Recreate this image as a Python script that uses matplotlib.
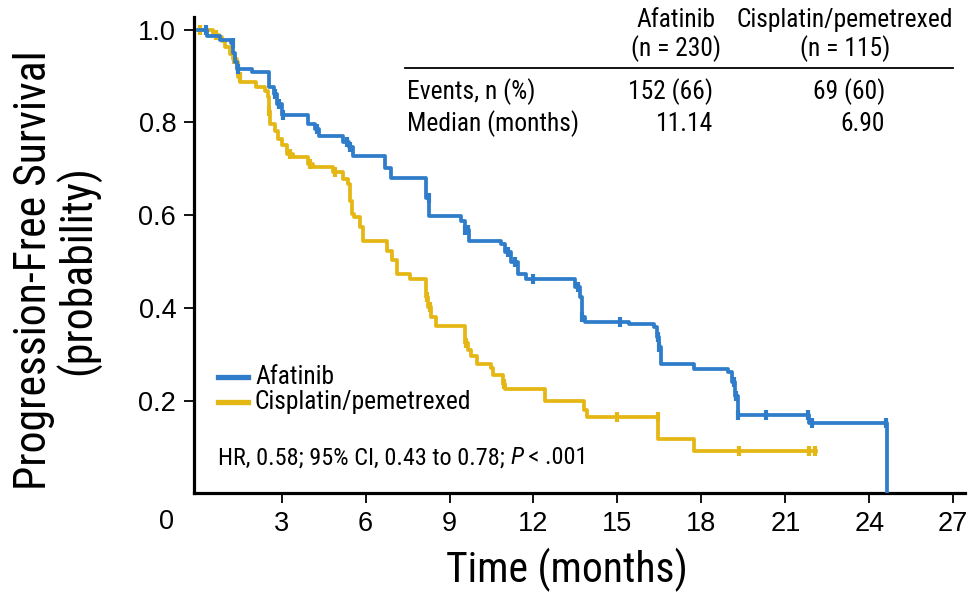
import numpy as np
import matplotlib
matplotlib.use("Agg")
import matplotlib.pyplot as plt
from matplotlib.lines import Line2D

# ---------------- data ----------------
afa_t = [0, 0.35, 0.8, 1.2, 1.28, 1.35, 1.42, 1.95, 2.55, 2.72, 2.82, 3.0, 3.95, 4.2, 4.35,
         5.2, 5.4, 5.55, 6.7, 6.9, 8.15, 8.28, 9.4, 9.55, 9.7, 10.85, 11.0, 11.2, 11.45, 11.75,
         13.5, 13.65, 13.75, 13.85, 15.4, 16.3, 16.4, 16.5, 16.55, 17.75, 18.95, 19.1, 19.2,
         19.3, 21.85, 24.65]
afa_s = [1.0, 0.985, 0.977, 0.97, 0.95, 0.93, 0.915, 0.908, 0.875, 0.862, 0.84, 0.815, 0.797,
         0.785, 0.771, 0.757, 0.746, 0.728, 0.702, 0.68, 0.637, 0.598, 0.588, 0.567, 0.545,
         0.538, 0.52, 0.498, 0.473, 0.463, 0.444, 0.423, 0.38, 0.369, 0.364, 0.358, 0.337,
         0.315, 0.279, 0.268, 0.262, 0.24, 0.21, 0.168, 0.151, 0.0]
afa_cens = [0.3, 1.25, 1.45, 2.75, 2.9, 3.05, 4.25, 5.35, 5.45, 8.25, 9.55, 9.65, 11.1,
            11.35, 12.0, 13.6, 13.75, 15.1, 16.45, 16.5, 19.15, 19.25, 19.3, 20.3, 21.8,
            21.95, 24.6]

cis_t = [0, 0.55, 0.75, 0.86, 0.98, 1.15, 1.27, 1.39, 1.45, 1.52, 2.1, 2.4, 2.52, 2.55, 2.58,
         2.75, 2.88, 3.0, 3.18, 3.42, 3.95, 4.13, 4.85, 5.2, 5.38, 5.44, 5.5, 5.6, 5.8, 5.92,
         6.75, 6.93, 7.11, 7.6, 8.15, 8.22, 8.35, 8.5, 9.55, 9.65, 9.75, 9.97, 10.5, 10.56,
         10.92, 10.98, 12.4, 13.82, 13.9, 16.46, 17.75]
cis_s = [1.0, 0.989, 0.983, 0.976, 0.962, 0.948, 0.937, 0.93, 0.897, 0.886, 0.876, 0.868,
         0.854, 0.825, 0.797, 0.782, 0.764, 0.75, 0.732, 0.725, 0.71, 0.703, 0.692, 0.678,
         0.667, 0.631, 0.603, 0.595, 0.574, 0.545, 0.523, 0.502, 0.473, 0.462, 0.423, 0.401,
         0.38, 0.36, 0.325, 0.31, 0.295, 0.278, 0.27, 0.254, 0.236, 0.224, 0.2, 0.179, 0.164,
         0.118, 0.092]
cis_end = 22.1
cis_cens = [0.1, 0.65, 1.3, 1.5, 2.55, 3.3, 4.0, 4.9, 8.2, 8.3, 9.6, 10.95, 15.0, 16.45,
            19.35, 21.85, 22.05]

x_ticks = [3, 6, 9, 12, 15, 18, 21, 24, 27]
y_ticks = [0.2, 0.4, 0.6, 0.8, 1.0]

legend_labels = ["Afatinib", "Cisplatin/pemetrexed"]
table_cols = ["Afatinib\n(n = 230)", "Cisplatin/pemetrexed\n(n = 115)"]
table_rows = ["Events, n (%)", "Median (months)"]
table_afa = ["152 (66)", "11.14"]
table_cis = ["69 (60)", "6.90"]
hr_parts = ["HR, 0.58; 95% CI, 0.43 to 0.78; ", "P", " < .001"]

BLUE = "#2F7DCA"
YEL = "#E4B714"
COND = ["Roboto Condensed", "Archivo Narrow", "DejaVu Sans"]
TICKF = ["Liberation Sans", "DejaVu Sans"]

# ---------------- figure ----------------
fig = plt.figure(figsize=(9.71, 5.94), dpi=100)
ax = fig.add_axes([194.3 / 971, 1 - 493.3 / 594, (965 - 194.3) / 971, 476.6 / 594])
ax.set_xlim(-0.12, 27.42)
ax.set_ylim(0, 1.0276)


def step_value(ts, ss, x):
    idx = np.searchsorted(ts, x, side="right") - 1
    return np.array(ss)[idx]


ax.step(afa_t, afa_s, where="post", color=BLUE, lw=2.7, zorder=3)
ax.plot(afa_cens, step_value(afa_t, afa_s, np.array(afa_cens)), ls="none", marker="|",
        ms=7, mew=3, color=BLUE, zorder=3)
ct = cis_t + [cis_end]
cs = cis_s + [cis_s[-1]]
ax.step(ct, cs, where="post", color=YEL, lw=2.7, zorder=2)
ax.plot(cis_cens, step_value(cis_t, cis_s, np.array(cis_cens)), ls="none", marker="|",
        ms=7, mew=3, color=YEL, zorder=2)

for s in ["top", "right"]:
    ax.spines[s].set_visible(False)
for s in ["left", "bottom"]:
    ax.spines[s].set_linewidth(2.3)
ax.set_xticks(x_ticks)
ax.set_yticks(y_ticks)
ax.set_yticklabels([f"{v:.1f}" for v in y_ticks])
ax.tick_params(axis="both", direction="out", length=7, width=1.3, labelsize=19.5, pad=6)
for lab in ax.get_xticklabels() + ax.get_yticklabels():
    lab.set_family(TICKF)
fig.text(167 / 971, 1 - 522 / 594, "0", ha="center", va="center", fontsize=19.5,
         family=TICKF)

fig.text(567 / 971, 1 - 570 / 594, "Time (months)", ha="center", va="center",
         fontsize=30, family=COND)
fig.text(57 / 971, 1 - 270 / 594, "Progression-Free Survival\n(probability)", ha="center",
         va="center", rotation=90, fontsize=31.5, family=COND, linespacing=1.0)

# legend drawn by hand
fs = 18.4
for i, (lab, col) in enumerate(zip(legend_labels, [BLUE, YEL])):
    yy = 1 - (377 + 25 * i) / 594
    fig.add_artist(Line2D([218 / 971, 248 / 971], [yy, yy], color=col, lw=3.8))
    fig.text(255 / 971, yy, lab, ha="left", va="center", fontsize=fs, family=COND)

# HR line with italic P
renderer = fig.canvas.get_renderer()
x0 = 218
yy = 1 - 458 / 594
for part, style in zip(hr_parts, ["normal", "italic", "normal"]):
    t = fig.text(x0 / 971, yy, part, ha="left", va="center", fontsize=17.5, family=COND,
                 style=style)
    x0 += t.get_window_extent(renderer).width

fig.text(676 / 971, 1 - 35 / 594, table_cols[0], ha="center", va="center", fontsize=fs,
         family=COND, linespacing=1.15)
fig.text(845 / 971, 1 - 35 / 594, table_cols[1], ha="center", va="center", fontsize=fs,
         family=COND, linespacing=1.15)
fig.add_artist(Line2D([405 / 971, 953 / 971], [1 - 68 / 594, 1 - 68 / 594], color="black",
                      lw=1.3))
for i, (r, a, c) in enumerate(zip(table_rows, table_afa, table_cis)):
    yy = 1 - (92 + 32 * i) / 594
    fig.text(407 / 971, yy, r, ha="left", va="center", fontsize=fs, family=COND)
    fig.text(713 / 971, yy, a, ha="right", va="center", fontsize=fs, family=COND)
    fig.text(885 / 971, yy, c, ha="right", va="center", fontsize=fs, family=COND)

fig.savefig("out.png", dpi=100)
